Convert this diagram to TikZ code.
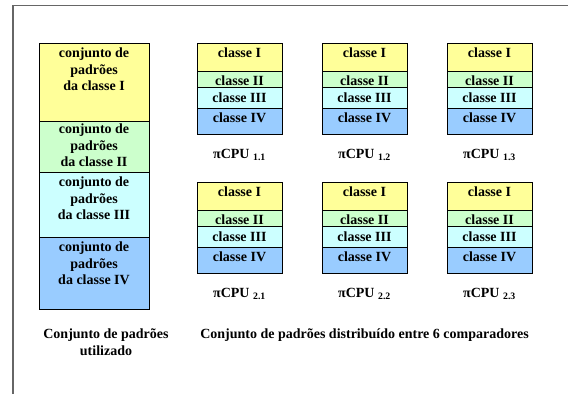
\documentclass[tikz,border=0pt]{standalone}
\usepackage{fontspec}
\setmainfont{Liberation Serif}
\definecolor{yel}{HTML}{FFFF99}
\definecolor{grn}{HTML}{CCFFCC}
\definecolor{cyn}{HTML}{CCFFFF}
\definecolor{blu}{HTML}{99CCFF}
\begin{document}
\begin{tikzpicture}[x=1bp, y=-1bp,
	txt/.style={font=\fontsize{14bp}{16.5bp}\selectfont\bfseries, inner sep=0pt, align=center},
	box/.style={draw=black, line width=0.8bp}]
			\useasboundingbox (0,0) rectangle (568,394);
			\draw[black!60, line width=1.2bp] (13,394) -- (13,5.5) -- (568,5.5);
			% conjunto completo
			\filldraw[box, fill=yel] (39,43) rectangle (149,121);
			\filldraw[box, fill=grn] (39,121) rectangle (149,172);
			\filldraw[box, fill=cyn] (39,172) rectangle (149,237);
			\filldraw[box, fill=blu] (39,237) rectangle (149,309);
			\node[txt, anchor=north] (setI) at (94,48) {conjunto de\\padrões\\da classe I};
			\node[txt, anchor=north] (setII) at (94,124) {conjunto de\\padrões\\da classe II};
			\node[txt, anchor=north] (setIII) at (94,177) {conjunto de\\padrões\\da classe III};
			\node[txt, anchor=north] (setIV) at (94,242) {conjunto de\\padrões\\da classe IV};
			\node[txt, anchor=north] (used) at (106,329) {Conjunto de padrões\\utilizado};
			% 6 comparadores
			\foreach \c/\x in {1/197,2/322,3/447} {
				\foreach \r/\y in {1/43,2/182} {
					\filldraw[box, fill=yel] (\x,\y) rectangle +(85,28);
					\filldraw[box, fill=grn] (\x,\y+28) rectangle +(85,16.5);
					\filldraw[box, fill=cyn] (\x,\y+44.5) rectangle +(85,20.5);
					\filldraw[box, fill=blu] (\x,\y+65) rectangle +(85,26.5);
					\node[txt, anchor=base] (c\r\c-I) at (\x+42.5,\y+14.5) {classe I};
					\node[txt, anchor=base] (c\r\c-II) at (\x+42.5,\y+42.5) {classe II};
					\node[txt, anchor=base] (c\r\c-III) at (\x+42.5,\y+59.5) {classe III};
					\node[txt, anchor=base] (c\r\c-IV) at (\x+42.5,\y+79.5) {classe IV};
					\node[txt, anchor=base] (cpu\r\c) at (\x+42.5,\y+115) {πCPU \textsubscript{\r.\c}};
				}
			}
			\node[txt, anchor=base] (dist) at (364.5,338.5) {Conjunto de padrões distribuído entre 6 comparadores};
		\end{tikzpicture}
\end{document}
